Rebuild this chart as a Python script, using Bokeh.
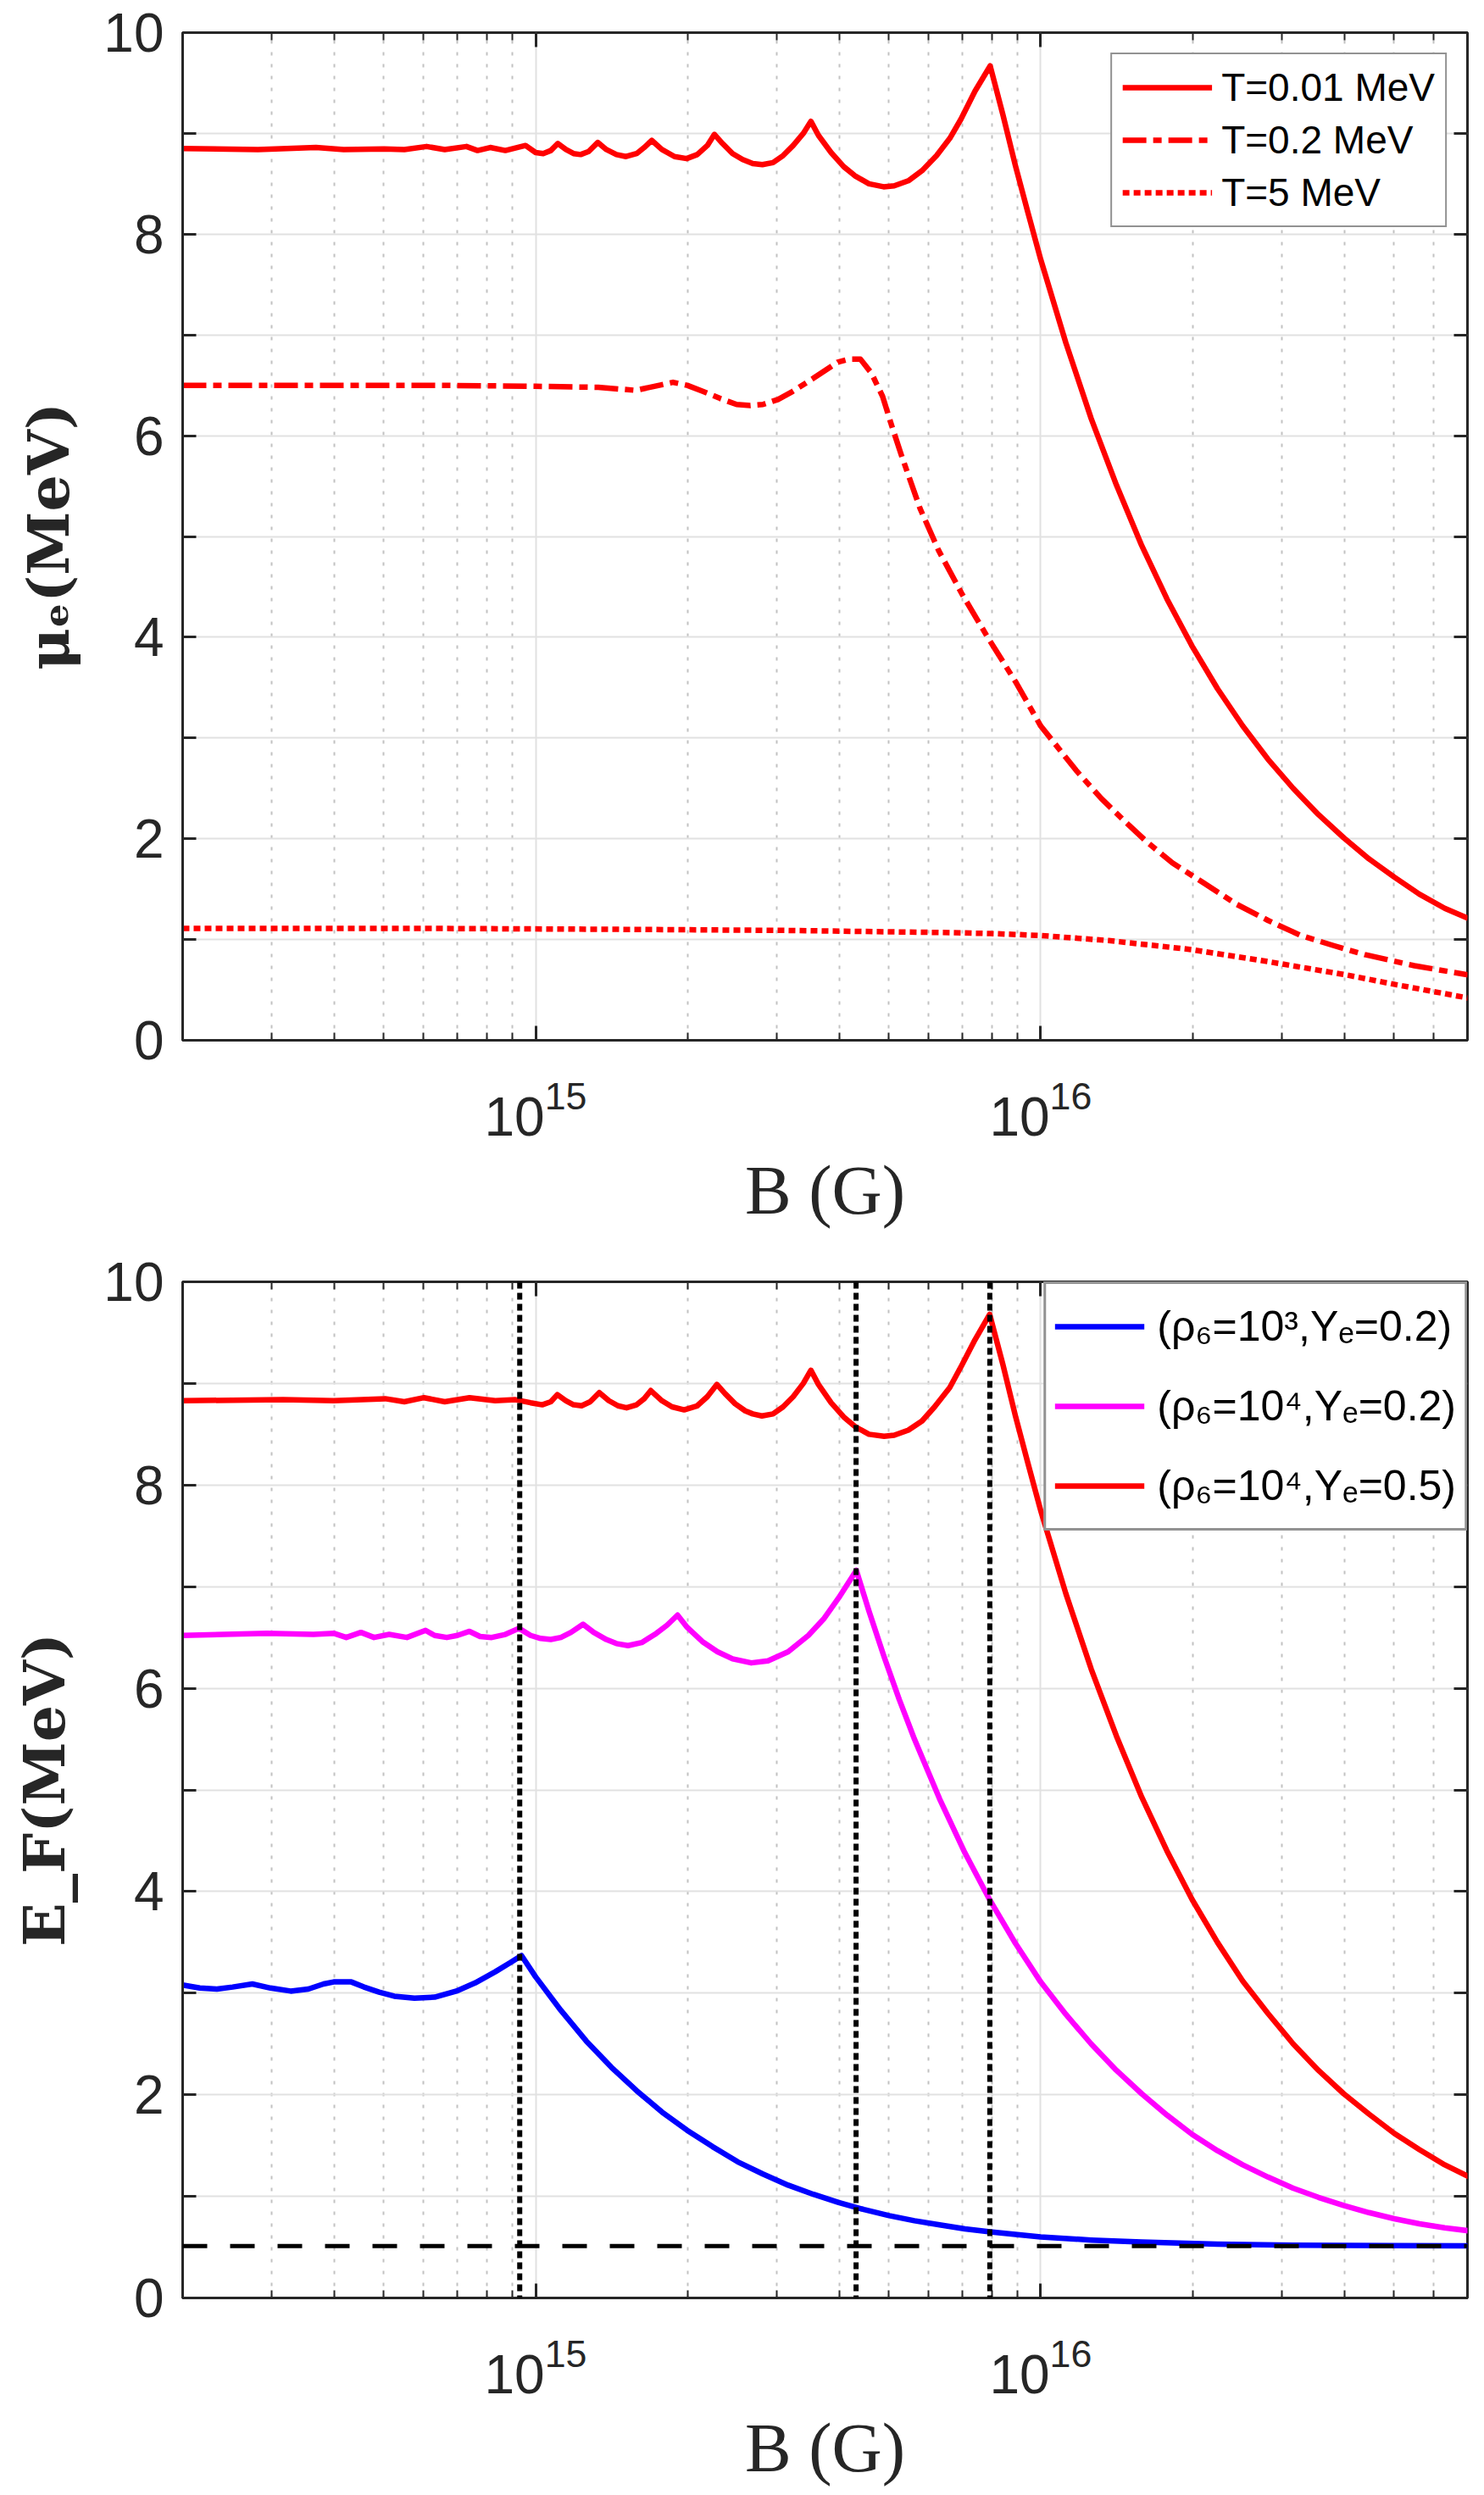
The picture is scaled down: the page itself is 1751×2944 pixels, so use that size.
import numpy as np
from bokeh.plotting import figure
from bokeh.layouts import column
from bokeh.models import Range1d, FixedTicker, LogTickFormatter, LinearAxis, LogAxis, Span
from bokeh.embed import file_html
from bokeh.resources import INLINE

# ---------------- data (x given as log10 of B in gauss, y in MeV) ----------------
# top panel: electron chemical potential mu_e for three temperatures
t001_logB = [14.301, 14.45, 14.565, 14.62, 14.70, 14.74, 14.784, 14.82, 14.863, 14.885, 14.910,
             14.94, 14.98, 15.000, 15.015, 15.03, 15.044, 15.06, 15.075, 15.089, 15.105, 15.123,
             15.14, 15.16, 15.179, 15.20, 15.215, 15.230, 15.25, 15.275, 15.299, 15.32, 15.34,
             15.354, 15.37, 15.39, 15.41, 15.43, 15.449, 15.47, 15.49, 15.51, 15.53, 15.545,
             15.56, 15.585, 15.61, 15.632, 15.66, 15.689, 15.71, 15.738, 15.765, 15.794, 15.82,
             15.842, 15.87, 15.900, 15.925, 15.950, 15.975, 16.000, 16.050, 16.100, 16.150,
             16.200, 16.250, 16.300, 16.350, 16.400, 16.450, 16.500, 16.550, 16.600, 16.650,
             16.700, 16.750, 16.800, 16.846]
t001_mu = [8.85, 8.84, 8.86, 8.84, 8.845, 8.84, 8.87, 8.84, 8.87, 8.83, 8.86,
           8.83, 8.88, 8.81, 8.80, 8.83, 8.90, 8.84, 8.80, 8.79, 8.82, 8.91,
           8.84, 8.79, 8.77, 8.80, 8.86, 8.93, 8.84, 8.77, 8.75, 8.79, 8.88,
           8.99, 8.90, 8.80, 8.74, 8.70, 8.69, 8.71, 8.78, 8.88, 9.00, 9.12,
           8.98, 8.81, 8.67, 8.58, 8.50, 8.47, 8.48, 8.53, 8.63, 8.78, 8.95,
           9.14, 9.42, 9.67, 9.19, 8.68, 8.21, 7.75, 6.92, 6.17, 5.51,
           4.91, 4.38, 3.91, 3.49, 3.12, 2.79, 2.50, 2.24, 2.01, 1.80,
           1.62, 1.45, 1.31, 1.21]

t02_logB = [14.301, 14.80, 15.00, 15.124, 15.198, 15.235, 15.272, 15.300, 15.331, 15.365,
            15.398, 15.425, 15.450, 15.480, 15.509, 15.55, 15.598, 15.620, 15.643, 15.665,
            15.687, 15.705, 15.724, 15.761, 15.798, 15.843, 15.895, 15.950, 16.000, 16.070,
            16.120, 16.165, 16.210, 16.261, 16.320, 16.388, 16.450, 16.515, 16.580, 16.642,
            16.740, 16.846]
t02_mu = [6.50, 6.50, 6.49, 6.48, 6.45, 6.49, 6.53, 6.50, 6.44, 6.37,
          6.31, 6.30, 6.31, 6.36, 6.44, 6.57, 6.73, 6.76, 6.76, 6.62,
          6.39, 6.10, 5.81, 5.28, 4.86, 4.44, 4.00, 3.56, 3.12, 2.68,
          2.40, 2.18, 1.97, 1.76, 1.57, 1.35, 1.19, 1.04, 0.94, 0.85,
          0.74, 0.65]

t5_logB = [14.301, 14.8, 15.2, 15.5, 15.8, 15.9, 16.0, 16.134, 16.299, 16.451, 16.604, 16.706, 16.846]
t5_mu = [1.11, 1.11, 1.10, 1.09, 1.07, 1.06, 1.04, 0.99, 0.90, 0.78, 0.65, 0.55, 0.42]

# bottom panel: Fermi energy E_F for three (rho6, Ye) cases
b_logB = [14.301, 14.335, 14.369, 14.40, 14.439, 14.475, 14.515, 14.55, 14.58, 14.60, 14.635,
          14.66, 14.69, 14.72, 14.76, 14.80, 14.843, 14.88, 14.92, 14.95, 14.972, 15.00,
          15.05, 15.10, 15.15, 15.20, 15.25, 15.30, 15.35, 15.40, 15.45, 15.50, 15.55, 15.60,
          15.65, 15.70, 15.75, 15.80, 15.85, 15.90, 16.00, 16.10, 16.20, 16.35, 16.50, 16.70,
          16.849]
b_ef = [3.08, 3.05, 3.04, 3.06, 3.09, 3.05, 3.02, 3.04, 3.09, 3.11, 3.11,
        3.06, 3.01, 2.97, 2.95, 2.96, 3.02, 3.10, 3.21, 3.30, 3.37, 3.16,
        2.83, 2.53, 2.27, 2.04, 1.83, 1.65, 1.49, 1.34, 1.22, 1.11, 1.02, 0.94,
        0.87, 0.81, 0.76, 0.72, 0.68, 0.65, 0.60, 0.57, 0.55, 0.53, 0.52, 0.515,
        0.513]

m_logB = [14.301, 14.468, 14.56, 14.601, 14.625, 14.654, 14.68, 14.71, 14.745, 14.782, 14.80,
          14.824, 14.845, 14.869, 14.89, 14.913, 14.94, 14.967, 14.99, 15.01, 15.03, 15.05,
          15.07, 15.094, 15.115, 15.14, 15.16, 15.183, 15.21, 15.236, 15.26, 15.281, 15.30,
          15.33, 15.36, 15.39, 15.427, 15.46, 15.50, 15.54, 15.57, 15.60, 15.635, 15.66,
          15.69, 15.72, 15.75, 15.80, 15.85, 15.90, 15.95, 16.00, 16.05, 16.10, 16.15, 16.20,
          16.25, 16.30, 16.35, 16.40, 16.45, 16.50, 16.55, 16.60, 16.65, 16.70, 16.75, 16.80,
          16.849]
m_ef = [6.52, 6.54, 6.53, 6.54, 6.50, 6.55, 6.50, 6.53, 6.50, 6.57, 6.52,
        6.50, 6.52, 6.56, 6.51, 6.50, 6.53, 6.59, 6.52, 6.49, 6.48, 6.50,
        6.55, 6.63, 6.55, 6.48, 6.44, 6.42, 6.45, 6.53, 6.62, 6.72, 6.60,
        6.46, 6.36, 6.29, 6.25, 6.27, 6.36, 6.52, 6.68, 6.89, 7.16, 6.76,
        6.31, 5.89, 5.50, 4.91, 4.38, 3.91, 3.49, 3.11, 2.79, 2.50, 2.24, 2.01,
        1.80, 1.61, 1.45, 1.31, 1.19, 1.08, 0.99, 0.91, 0.84, 0.78, 0.73, 0.69,
        0.66]

r_logB = [14.301, 14.50, 14.60, 14.702, 14.74, 14.779, 14.82, 14.869, 14.92, 14.96, 14.99,
          15.013, 15.03, 15.043, 15.06, 15.075, 15.091, 15.108, 15.126, 15.145, 15.163, 15.18,
          15.20, 15.215, 15.228, 15.25, 15.27, 15.294, 15.32, 15.34, 15.359, 15.375, 15.395,
          15.415, 15.43, 15.448, 15.47, 15.49, 15.51, 15.53, 15.545, 15.56, 15.585, 15.61,
          15.634, 15.66, 15.690, 15.71, 15.738, 15.765, 15.79, 15.82, 15.844, 15.87, 15.899,
          15.925, 15.95, 15.975, 16.0, 16.05, 16.1, 16.15, 16.2, 16.25, 16.3, 16.35, 16.4,
          16.45, 16.5, 16.55, 16.6, 16.65, 16.7, 16.75, 16.8, 16.849]
r_ef = [8.83, 8.84, 8.83, 8.85, 8.82, 8.86, 8.82, 8.86, 8.83, 8.84, 8.81,
        8.79, 8.82, 8.89, 8.83, 8.79, 8.78, 8.82, 8.91, 8.83, 8.78, 8.76,
        8.79, 8.85, 8.93, 8.83, 8.77, 8.74, 8.78, 8.87, 8.99, 8.90, 8.80,
        8.73, 8.70, 8.68, 8.70, 8.77, 8.87, 9.00, 9.13, 8.99, 8.81, 8.67,
        8.57, 8.50, 8.48, 8.49, 8.54, 8.63, 8.77, 8.96, 9.18, 9.43, 9.68,
        9.19, 8.68, 8.21, 7.75, 6.93, 6.19, 5.53, 4.93, 4.40, 3.92, 3.50, 3.12,
        2.80, 2.50, 2.24, 2.01, 1.81, 1.62, 1.46, 1.31, 1.19]

vline_B = [9.3e14, 4.31e15, 7.93e15]   # vertical dotted markers (bottom panel)
hline_E = 0.511                         # electron rest mass (MeV), dashed line

top_labels = ["T=0.01 MeV", "T=0.2 MeV", "T=5 MeV"]
bottom_labels = ["(\u03c1\u2086=10\u00b3,Y\u2091=0.2)",
                 "(\u03c1\u2086=10\u2074,Y\u2091=0.2)",
                 "(\u03c1\u2086=10\u2074,Y\u2091=0.5)"]
top_ytitle = "\u03bc\u2091(MeV)"
bottom_ytitle = "E_F(MeV)"
x_title = "B (G)"

x_range_lim = (2e14, 7e16)
x_major = [1e15, 1e16]
x_minor = [2e14, 3e14, 4e14, 5e14, 6e14, 7e14, 8e14, 9e14,
           2e15, 3e15, 4e15, 5e15, 6e15, 7e15, 8e15, 9e15,
           2e16, 3e16, 4e16, 5e16, 6e16]
y_ticks = [0, 1, 2, 3, 4, 5, 6, 7, 8, 9, 10]
y_blank = {1: "", 3: "", 5: "", 7: "", 9: ""}

AX = "#262626"
LW = 6.5


def to_B(logs):
    return [10.0 ** v for v in logs]


def make_fig(width, height, mleft, mright, mtop, mbottom, ytitle, ytitle_standoff):
    p = figure(width=width, height=height, x_axis_type="log",
               x_range=Range1d(*x_range_lim), y_range=Range1d(0, 10),
               output_backend="svg", toolbar_location=None,
               min_border_left=mleft, min_border_right=mright,
               min_border_top=mtop, min_border_bottom=mbottom)
    p.background_fill_color = "white"
    p.border_fill_color = "white"
    p.outline_line_color = AX
    p.outline_line_width = 3

    xa = p.below[0]
    xa.ticker = FixedTicker(ticks=x_major, minor_ticks=x_minor)
    xa.formatter = LogTickFormatter()
    xa.major_label_text_font = "Liberation Sans"
    xa.major_label_text_font_size = "64px"
    xa.major_label_text_color = AX
    xa.major_label_standoff = 47
    xa.major_tick_in = 17
    xa.major_tick_out = 0
    xa.minor_tick_in = 9
    xa.minor_tick_out = 0
    xa.major_tick_line_color = AX
    xa.minor_tick_line_color = AX
    xa.major_tick_line_width = 3
    xa.minor_tick_line_width = 2
    xa.axis_line_color = AX
    xa.axis_line_width = 3
    xa.axis_label = x_title
    xa.axis_label_text_font = "Liberation Serif"
    xa.axis_label_text_font_size = "82px"
    xa.axis_label_text_font_style = "normal"
    xa.axis_label_text_color = AX
    xa.axis_label_standoff = 16

    ya = p.left[0]
    ya.ticker = FixedTicker(ticks=y_ticks)
    ya.major_label_overrides = y_blank
    ya.major_label_text_font = "Liberation Sans"
    ya.major_label_text_font_size = "64px"
    ya.major_label_text_color = AX
    ya.major_label_standoff = 22
    ya.major_tick_in = 16
    ya.major_tick_out = 0
    ya.minor_tick_line_color = None
    ya.major_tick_line_color = AX
    ya.major_tick_line_width = 3
    ya.axis_line_color = AX
    ya.axis_line_width = 3
    ya.axis_label = ytitle
    ya.axis_label_text_font = "DejaVu Serif"
    ya.axis_label_text_font_size = "68px"
    ya.axis_label_text_font_style = "bold"
    ya.axis_label_text_color = AX
    ya.axis_label_standoff = ytitle_standoff

    p.xgrid.grid_line_color = "#e1e1e1"
    p.xgrid.grid_line_width = 2
    p.xgrid.minor_grid_line_color = "#c2c2c2"
    p.xgrid.minor_grid_line_dash = "4 10"
    p.xgrid.minor_grid_line_width = 2
    p.ygrid.grid_line_color = "#e1e1e1"
    p.ygrid.grid_line_width = 2

    top = LogAxis(ticker=FixedTicker(ticks=x_major, minor_ticks=x_minor),
                  major_label_text_font_size="1px", major_label_text_alpha=0.0,
                  major_label_standoff=0,
                  major_tick_in=17, major_tick_out=0, minor_tick_in=9, minor_tick_out=0,
                  major_tick_line_color=AX, minor_tick_line_color=AX,
                  major_tick_line_width=3, minor_tick_line_width=2,
                  axis_line_color=None)
    p.add_layout(top, "above")
    right = LinearAxis(ticker=FixedTicker(ticks=y_ticks),
                       major_label_text_font_size="1px", major_label_text_alpha=0.0,
                       major_label_standoff=0,
                       major_tick_in=16, major_tick_out=0, minor_tick_line_color=None,
                       major_tick_line_color=AX, major_tick_line_width=3,
                       axis_line_color=None)
    p.add_layout(right, "right")
    return p


def style_legend(lg, margin, padding, spacing, item_h, standoff, border_w, fsize):
    lg.location = "top_right"
    lg.margin = margin
    lg.padding = padding
    lg.spacing = spacing
    lg.glyph_width = 106
    lg.glyph_height = item_h
    lg.label_height = item_h
    lg.label_standoff = standoff
    lg.label_text_font = "Liberation Sans"
    lg.label_text_font_size = fsize
    lg.label_text_color = "black"
    lg.border_line_color = AX
    lg.border_line_width = border_w
    lg.background_fill_color = "white"
    lg.background_fill_alpha = 1.0


H1, H2 = 1470, 1474
W = 1751

# ---------------- top panel ----------------
p1 = make_fig(W, H1, 201, 20, 38, 243, top_ytitle, 22)
p1.line(to_B(t001_logB), t001_mu, line_color="#ff0000", line_width=LW, line_join="round",
        legend_label=top_labels[0])
p1.line(to_B(t02_logB), t02_mu, line_color="#ff0000", line_width=LW, line_dash="28 8 10 8",
        line_join="round", legend_label=top_labels[1])
p1.line(to_B(t5_logB), t5_mu, line_color="#ff0000", line_width=LW, line_dash="8 5",
        line_join="round", legend_label=top_labels[2])
style_legend(p1.legend[0], 24, 12, 8, 50, 11, 2.5, "46px")

# ---------------- bottom panel ----------------
p2 = make_fig(W, H2, 215, 5, 42, 233, bottom_ytitle, 27)
p2.line(to_B(b_logB), b_ef, line_color="#0000ff", line_width=LW, line_join="round",
        legend_label=bottom_labels[0])
p2.line(to_B(m_logB), m_ef, line_color="#ff00ff", line_width=LW, line_join="round",
        legend_label=bottom_labels[1])
p2.line(to_B(r_logB), r_ef, line_color="#ff0000", line_width=LW, line_join="round",
        legend_label=bottom_labels[2])
for xb in vline_B:
    p2.add_layout(Span(location=xb, dimension="height", line_color="black",
                       line_width=6, line_dash="8 5"))
p2.add_layout(Span(location=hline_E, dimension="width", line_color="black",
                   line_width=5, line_dash="29 27"))
style_legend(p2.legend[0], 0, 10, 14, 80, 15, 3, "50px")

layout = column(p1, p2)
open("out.html", "w").write(file_html(layout, INLINE))
